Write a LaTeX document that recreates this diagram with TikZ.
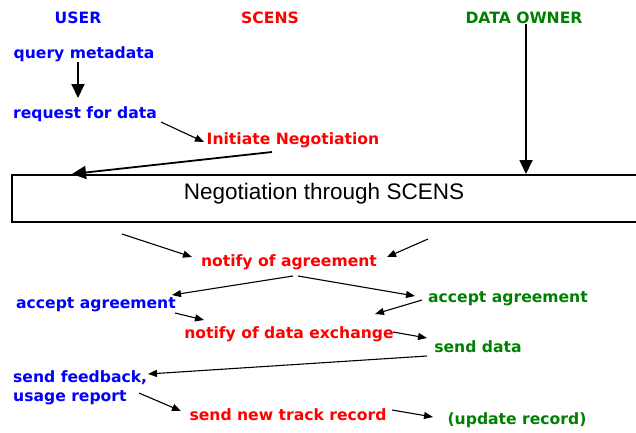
\documentclass[tikz,border=0pt]{standalone}
\usepackage{fontspec}
\setmainfont{DejaVu Sans}
\newfontfamily\arialf{Liberation Sans}
\usetikzlibrary{arrows.meta}
\definecolor{ublue}{RGB}{0,0,255}
\definecolor{sred}{RGB}{255,0,0}
\definecolor{dgreen}{RGB}{0,128,0}
\tikzset{
  lbl/.style={inner sep=0pt, yshift=-1.5pt, font=\fontsize{15.6}{19}\selectfont\bfseries, align=left},
  user/.style={lbl, text=ublue},
  scens/.style={lbl, text=sred},
  owner/.style={lbl, text=dgreen},
  thin/.style={line width=1.1pt, -{Triangle[width=7pt,length=9pt]}},
  thick/.style={line width=1.8pt, -{Triangle[width=13pt,length=14pt]}},
}
\begin{document}
\begin{tikzpicture}[x=1pt,y=-1pt]
\useasboundingbox (0,0) rectangle (636,432);
% headers
\node[user]  (hu) at (78,16) {USER};
\node[scens] (hs) at (270,16) {SCENS};
\node[owner] (ho) at (524,16) {DATA OWNER};
% user side
\node[user] (qm) at (84,53) {query metadata};
\node[user] (rd) at (85,113) {request for data};
\node[scens] (in) at (293,139) {Initiate Negotiation};
% box
\node[draw, line width=1.6pt, minimum width=640pt, minimum height=47pt, anchor=north west, inner sep=0pt] (box) at (11,174) {};
\node[inner sep=0pt, font=\arialf\fontsize{22.5}{24}\selectfont] (boxt) at (324,194) {Negotiation through SCENS};
% lower
\node[scens] (na) at (289,261) {notify of agreement};
\node[user]  (ua) at (96,303) {accept agreement};
\node[owner] (oa) at (508,297) {accept agreement};
\node[scens] (nd) at (289,333) {notify of data exchange};
\node[owner] (sd) at (478,345) {send data};
\node[user, anchor=west]  (fb) at (13,386) {send feedback,\\usage report};
\node[scens] (tr) at (288,413) {send new track record};
\node[owner] (ur) at (517,419) {(update record)};
% coordinates
\coordinate (boxbl) at (122,234);
\coordinate (boxbr) at (428,239);
\coordinate (boxtl) at (72,174);
\coordinate (boxtr) at (526,174);
% arrows
\draw[thick] (78,62) -- (78,98);
\draw[thin] (161,122) -- (204,142);
\draw[thick] (272,152) -- (boxtl);
\draw[thick] (526,24) -- (boxtr);
\draw[thin] (boxbl) -- (192,257);
\draw[thin] (boxbr) -- (387,257);
\draw[thin] (293,276) -- (172,295);
\draw[thin] (298,276) -- (415,296);
\draw[thin] (175,313) -- (204,320);
\draw[thin] (422,300) -- (375,314);
\draw[thin] (393,332) -- (427,338);
\draw[thin] (427,356) -- (148,374);
\draw[thin] (139,393) -- (181,411);
\draw[thin] (392,410) -- (433,417);
\end{tikzpicture}
\end{document}
